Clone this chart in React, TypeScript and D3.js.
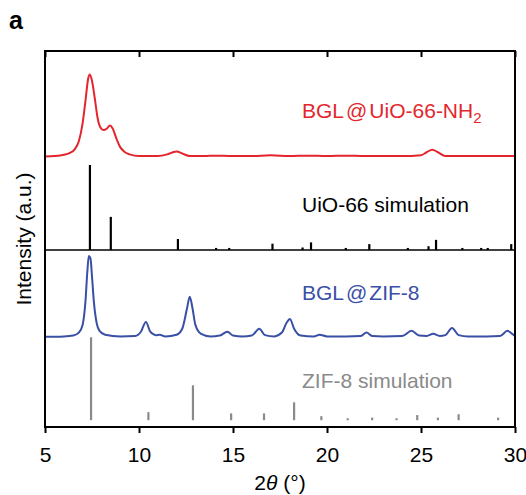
import { useEffect, useRef } from "react";
import * as d3 from "d3";

const width = 526;
const height = 495;
const margin = { left: 45, right: 11, top: 51, bottom: 68 };

const xTicks = [5, 10, 15, 20, 25, 30];

// BGL@UiO-66-NH2 measured pattern (intensity above its own baseline, a.u.)
const redTheta = [5, 5.5, 6, 6.3, 6.6, 6.8, 7, 7.15, 7.3, 7.38, 7.5, 7.65, 7.8, 7.95, 8.1, 8.3, 8.45, 8.6, 8.8, 9, 9.2, 9.5, 10, 11, 11.5, 11.8, 12, 12.3, 12.7, 13.5, 14, 15, 16, 17, 18, 19, 20, 21, 22, 23, 24, 25, 25.3, 25.6, 25.9, 26.3, 27, 28, 29, 30];
const redIntensity = [0, 0.5, 2, 4, 9, 18, 39, 65, 92, 96.5, 89, 68, 45, 34, 31, 33, 36.5, 33, 21, 11, 6, 2.5, 0.5, 0.5, 2.5, 5, 6, 3.5, 0.5, 0.5, 1, 0.5, 0.5, 1.5, 0.5, 1, 0.5, 1, 0.5, 0.5, 0.5, 1.5, 5, 8, 5, 0.5, 0.5, 0.5, 0.5, 0.5];

// BGL@ZIF-8 measured pattern
const blueTheta = [5, 6, 6.5, 6.8, 7, 7.15, 7.25, 7.33, 7.42, 7.5, 7.6, 7.75, 7.9, 8.2, 9, 9.8, 10.1, 10.37, 10.6, 10.9, 11.1, 11.4, 12, 12.3, 12.55, 12.7, 12.85, 13, 13.3, 13.8, 14.3, 14.7, 15, 15.5, 16, 16.4, 16.7, 17.2, 17.6, 17.85, 18.03, 18.25, 18.6, 19.3, 19.6, 20, 21, 21.8, 22.1, 22.4, 23, 24, 24.5, 24.9, 25.3, 25.65, 26, 26.3, 26.65, 27, 27.5, 28.5, 29.2, 29.6, 29.85, 30];
const blueIntensity = [0, 0.5, 1.5, 5, 14, 41, 76, 95, 92, 71, 41, 16, 7, 2.5, 0.5, 1, 6, 17.5, 6, 2, 2.5, 0.5, 2.5, 9.5, 33, 47, 33, 14, 3.5, 0.5, 1.5, 6, 1.5, 0.5, 1.5, 9.5, 2, 0.5, 5, 16.5, 21, 9.5, 1.5, 0.5, 2.5, 0.5, 0.5, 1, 5, 1, 0.5, 1, 7, 1.5, 1, 3.5, 1, 2, 10.5, 2, 0.5, 0.5, 1, 7, 3.5, 1];

// UiO-66 simulated reflections
const uioPeaks = [7.39, 8.5, 12.07, 14.1, 14.8, 17.1, 18.7, 19.15, 21.0, 22.25, 24.3, 25.4, 25.8, 27.2, 28.2, 28.55, 29.8];
const uioHeights = [100, 39, 13, 2.5, 2.5, 7.5, 3, 9, 2.5, 7, 2.5, 4.5, 12, 2.5, 2.5, 2.5, 7];

// ZIF-8 simulated reflections
const zifPeaks = [7.45, 10.5, 12.87, 14.9, 16.65, 18.25, 19.7, 21.1, 22.4, 23.7, 24.8, 25.9, 27.0, 29.1];
const zifHeights = [97.5, 9.5, 41, 8, 8, 21, 4.7, 2.3, 3, 2.3, 6, 3, 7, 3];

// vertical offsets of each trace (a.u.)
const zifBase = 8;
const blueBase = 106;
const uioBase = 208;
const redBase = 318;

const x = d3.scaleLinear().domain([5, 30]).range([margin.left, width - margin.right]);
const y = d3.scaleLinear().domain([0, 442]).range([height - margin.bottom, margin.top]);

const font = "Liberation Sans, Arial, Helvetica, sans-serif";

function tracePath(theta: number[], vals: number[], base: number) {
  const pts = theta.map((t, i) => [t, vals[i] + base] as [number, number]);
  return d3
    .line<[number, number]>()
    .x((d) => x(d[0]))
    .y((d) => y(d[1]))
    .curve(d3.curveMonotoneX)(pts) as string;
}

export default function App() {
  const bottomRef = useRef<SVGGElement>(null);
  const topRef = useRef<SVGGElement>(null);

  useEffect(() => {
    const bottom = d3.select(bottomRef.current!);
    bottom.call(d3.axisBottom(x).tickValues(xTicks).tickSize(6).tickPadding(14));
    bottom.select(".domain").remove();
    bottom.selectAll("line").attr("stroke-width", 2);
    bottom
      .selectAll("text")
      .attr("font-family", font)
      .attr("font-size", 21)
      .attr("fill", "#000");

    const top = d3.select(topRef.current!);
    top.call(d3.axisTop(x).tickValues(xTicks).tickSize(-6).tickFormat(() => ""));
    top.select(".domain").remove();
    top.selectAll("line").attr("stroke-width", 2);
  }, []);

  const x0 = x(5);
  const x1 = x(30);

  return (
    <svg width={width} height={height} style={{ position: "absolute", left: 0, top: 0 }}>
      <rect width={width} height={height} fill="#fff" />
      <text x={9} y={29} fontFamily={font} fontWeight="bold" fontSize={25}>a</text>

      {/* UiO-66 simulation sticks */}
      {uioPeaks.map((p, i) => (
        <line key={"u" + i} x1={x(p)} x2={x(p)} y1={y(uioBase)} y2={y(uioBase + uioHeights[i])}
          stroke="#000" strokeWidth={2.2} />
      ))}
      {/* ZIF-8 simulation sticks */}
      {zifPeaks.map((p, i) => (
        <line key={"z" + i} x1={x(p)} x2={x(p)} y1={y(zifBase)} y2={y(zifBase + zifHeights[i])}
          stroke="#8a8a8a" strokeWidth={2.2} />
      ))}

      <path d={tracePath(redTheta, redIntensity, redBase)} fill="none" stroke="#e3262d" strokeWidth={2} />
      <path d={tracePath(blueTheta, blueIntensity, blueBase)} fill="none" stroke="#3a4fa6" strokeWidth={2} />

      {/* frame and divider */}
      <line x1={x0} x2={x1} y1={y(uioBase)} y2={y(uioBase)} stroke="#000" strokeWidth={1.5} />
      <rect x={x0} y={margin.top} width={x1 - x0} height={height - margin.bottom - margin.top}
        fill="none" stroke="#000" strokeWidth={2} />
      <g ref={topRef} transform={`translate(0,${margin.top})`} />
      <g ref={bottomRef} transform={`translate(0,${height - margin.bottom})`} />

      <g fontFamily={font} fontSize={21}>
        <text x={302} y={118} fill="#e3262d">
          BGL<tspan dx={2}>@</tspan><tspan dx={2}>UiO-66-NH</tspan>
          <tspan fontSize={15} dy={5}>2</tspan>
        </text>
        <text x={302} y={212} fill="#000">UiO-66 simulation</text>
        <text x={302} y={300} fill="#3a4fa6">
          BGL<tspan dx={2}>@</tspan><tspan dx={2}>ZIF-8</tspan>
        </text>
        <text x={302} y={388} fill="#8a8a8a">ZIF-8 simulation</text>

        <text transform={`translate(31,${(margin.top + height - margin.bottom) / 2}) rotate(-90)`}
          textAnchor="middle">Intensity (a.u.)</text>
        <text x={(x0 + x1) / 2} y={490} textAnchor="middle">
          2<tspan fontStyle="italic">θ</tspan> (°)
        </text>
      </g>
    </svg>
  );
}
